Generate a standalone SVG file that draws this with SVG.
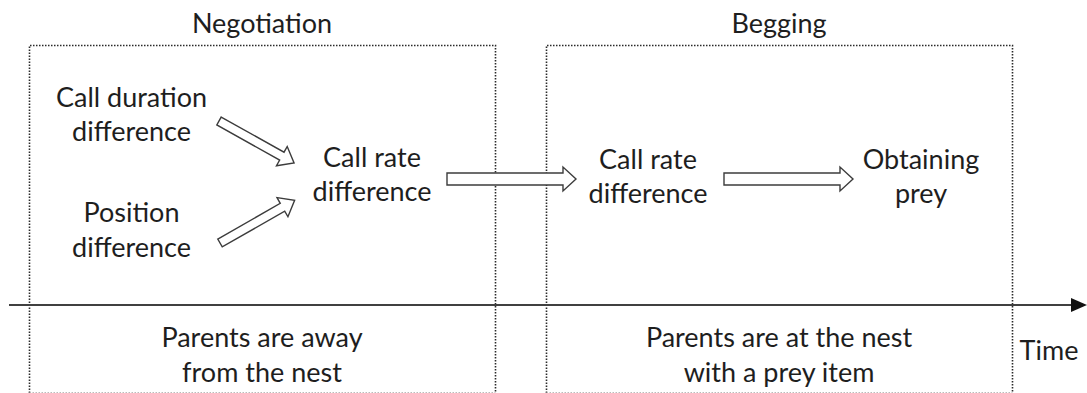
<svg xmlns="http://www.w3.org/2000/svg" width="1087" height="393" viewBox="0 0 1087 393">
  <style>
    text { font-family: Lato, "Liberation Sans", sans-serif; font-size: 27px; fill: #1e1e1e; text-anchor: middle; }
    .frame { fill: none; stroke: #2a2a2a; stroke-width: 1.6; stroke-dasharray: 1.5 1.5; }
    .frame-bottom { fill: none; stroke: #bbb; stroke-width: 1; stroke-dasharray: 1.5 1.5; }
    .blk { fill: #fff; stroke: #3c3c3c; stroke-width: 1.4; stroke-linejoin: miter; }
    .axis { stroke: #404040; stroke-width: 2; }
  </style>
  <defs>
    <path id="small-arrow" d="M0,-4.5 H72 V-11 L86,0 L72,11 V4.5 H0 Z"/>
    <path id="big-arrow" d="M0,-6 H116 V-12 L129,0 L116,12 V6 H0 Z"/>
  </defs>

  <g id="negotiation-phase">
    <path class="frame" d="M29.5,393 V45.5 H495.5 V393"/>
    <path class="frame-bottom" d="M29.5,392.5 H495.5"/>
    <text x="262" y="33">Negotiation</text>
  </g>
  <g id="begging-phase">
    <path class="frame" d="M546.5,393 V45.5 H1012.5 V393"/>
    <path class="frame-bottom" d="M546.5,392.5 H1012.5"/>
    <text x="779" y="33">Begging</text>
  </g>

  <g id="call-duration">
    <text x="131.5" y="107">Call duration</text>
    <text x="131.5" y="141">difference</text>
  </g>
  <g id="position">
    <text x="131.5" y="222">Position</text>
    <text x="131.5" y="257">difference</text>
  </g>
  <g id="call-rate-negotiation">
    <text x="372" y="167">Call rate</text>
    <text x="372" y="201">difference</text>
  </g>
  <g id="call-rate-begging">
    <text x="648" y="169">Call rate</text>
    <text x="648" y="203">difference</text>
  </g>
  <g id="obtaining-prey">
    <text x="921" y="169">Obtaining</text>
    <text x="921" y="203">prey</text>
  </g>
  <g id="parents-away">
    <text x="262" y="347">Parents are away</text>
    <text x="262" y="382">from the nest</text>
  </g>
  <g id="parents-at-nest">
    <text x="779" y="347">Parents are at the nest</text>
    <text x="779" y="382">with a prey item</text>
  </g>
  <g id="time-label">
    <text x="1049" y="360">Time</text>
  </g>

  <g id="connectors">
    <use href="#small-arrow" class="blk" transform="translate(219,121) rotate(29.2)"/>
    <use href="#small-arrow" class="blk" transform="translate(220,243) rotate(-29.8)"/>
    <use href="#big-arrow" class="blk" transform="translate(447,179)"/>
    <use href="#big-arrow" class="blk" transform="translate(724,179)"/>
    <line class="axis" x1="9" y1="305" x2="1073" y2="305"/>
    <polygon points="1071,298 1087,305 1071,312" fill="#111"/>
  </g>
</svg>
